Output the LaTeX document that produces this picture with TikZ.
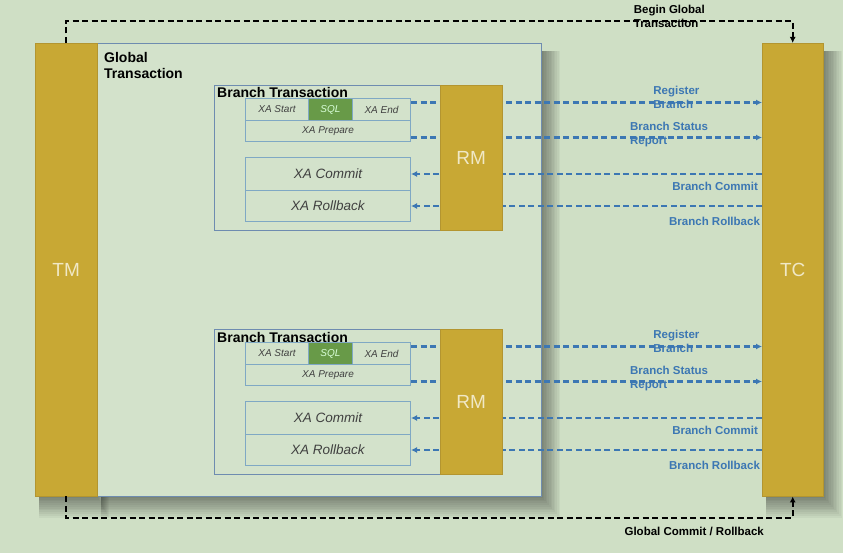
\documentclass[tikz,border=0pt]{standalone}
\usepackage{fontspec}
\setmainfont{Liberation Sans}
\usetikzlibrary{calc}
\usetikzlibrary{arrows.meta}
\definecolor{bgGreen}{HTML}{CFDFC5}
\definecolor{boxGreen}{HTML}{D3E2CB}
\definecolor{gold}{HTML}{C8A834}
\definecolor{goldEdge}{HTML}{B39530}
\definecolor{goldText}{HTML}{F0E8C6}
\definecolor{frameBlue}{HTML}{6E8CB0}
\definecolor{cellBlue}{HTML}{7FA8C4}
\definecolor{flowBlue}{HTML}{3C77B3}
\definecolor{sqlGreen}{HTML}{689A48}
\tikzset{
    shade/.style = {
        black,
        opacity=.04,
    },
    manager/.style = {
        draw=goldEdge,
        fill=gold,
        text=goldText,
        font=\fontsize{19}{22}\selectfont,
        inner sep=0pt,
        anchor=north west,
    },
    frame/.style = {
        draw=frameBlue,
        fill=boxGreen,
        line width=1.2pt,
        inner sep=0pt,
        anchor=north west,
    },
    branch/.style = {
        draw=frameBlue,
        line width=1pt,
        inner sep=0pt,
        anchor=north west,
    },
    heading/.style = {
        font=\fontsize{14}{16}\selectfont\bfseries,
        align=left,
        inner sep=0pt,
    },
    cell/.style = {
        draw=cellBlue,
        fill=boxGreen,
        line width=1pt,
        inner sep=0pt,
        anchor=north west,
        text=black!75,
        font=\fontsize{10}{12}\selectfont\itshape,
    },
    sqlcell/.style = {
        fill=sqlGreen,
        text=green!15!white,
    },
    bigcell/.style = {
        font=\fontsize{13.5}{16}\selectfont\itshape,
    },
    control/.style = {
        black,
        line width=2pt,
        dash pattern=on 6pt off 3.5pt,
        -{Latex[length=6pt, width=6pt]},
    },
    flow/.style = {
        flowBlue,
        line width=2.2pt,
        dash pattern=on 6pt off 3.5pt,
        -{Latex[length=6pt, width=6pt]},
    },
    ctrllabel/.style = {
        text=black,
        font=\fontsize{11.5}{14}\selectfont\bfseries,
        align=left,
        inner sep=0pt,
    },
    flowlabel/.style = {
        text=flowBlue,
        font=\fontsize{11.5}{14}\selectfont\bfseries,
        align=left,
        inner sep=0pt,
    }
}

\begin{document}
\begin{tikzpicture}[x=1pt, y=-1pt]
  % Background and shadows
  \fill[bgGreen] (0,0) rectangle (843,553);
  \useasboundingbox (0,0) rectangle (843,553);
  \foreach \k in {1,...,12} {
    \fill[shade] (39,51) rectangle (97+\k,496+1.8*\k);
    \fill[shade] (101,51) rectangle (541+1.6*\k,496+1.8*\k);
    \fill[shade] (766,51) rectangle (823+1.6*\k,496+1.8*\k);
  }

  % Managers and the global transaction
  \node[frame, minimum width=444pt, minimum height=453pt] (global) at (97,43) {};
  \node[manager, minimum width=62pt, minimum height=453pt] (tm) at (35,43) {TM};
  \node[manager, minimum width=61pt, minimum height=453pt] (tc) at (762,43) {TC};
  \node[heading, anchor=north west] (gt) at (104,52) {Global\\Transaction};

  \draw[control] (tm.north) -- ++(0,-22) -| node[ctrllabel, pos=.39, anchor=west, yshift=5pt] (begin) {Begin Global\\Transaction} (tc.north);
  \draw[control] (tm.south) -- ++(0,22) -| node[ctrllabel, pos=.3836, anchor=west, yshift=-13pt] (finish) {Global Commit / Rollback} (tc.south);

  % Branch transactions
  \foreach \i/\dy in {1/0, 2/244} {
    \node[branch, minimum width=226pt, minimum height=145pt] (bt\i) at (214,85+\dy) {};
    \node[heading, anchor=base west] (btt\i) at (217,98+\dy) {Branch Transaction};
    \node[cell, minimum width=63pt, minimum height=22pt] (xastart\i) at (245,98+\dy) {XA Start};
    \node[cell, sqlcell, minimum width=44pt, minimum height=22pt] (sql\i) at (308,98+\dy) {SQL};
    \node[cell, minimum width=58pt, minimum height=22pt] (xaend\i) at (352,98+\dy) {XA End};
    \node[cell, minimum width=165pt, minimum height=21pt] (prepare\i) at (245,120+\dy) {XA Prepare};
    \node[cell, bigcell, minimum width=165pt, minimum height=33pt] (commit\i) at (245,157+\dy) {XA Commit};
    \node[cell, bigcell, minimum width=165pt, minimum height=31pt] (rollback\i) at (245,190+\dy) {XA Rollback};

    \draw[flow] ([yshift=7pt]xaend\i.east) -- ([yshift=7pt]xaend\i.east -| tc.west) node[flowlabel, pos=.6875, anchor=west, yshift=5pt] {Register\\Branch};
    \draw[flow] ([yshift=-6.5pt]prepare\i.east) -- ([yshift=-6.5pt]prepare\i.east -| tc.west) node[flowlabel, pos=.621, anchor=west, yshift=3pt] {Branch Status\\Report};
    \draw[flow] (commit\i.east -| tc.west) -- (commit\i.east) node[flowlabel, at start, anchor=north east, xshift=-3pt, yshift=-7pt] {Branch Commit};
    \draw[flow] (rollback\i.east -| tc.west) -- (rollback\i.east) node[flowlabel, at start, anchor=north east, xshift=-1pt, yshift=-10pt] {Branch Rollback};

    \node[manager, minimum width=62pt, minimum height=145pt] (rm\i) at (440,85+\dy) {RM};
  }
\end{tikzpicture}
\end{document}
